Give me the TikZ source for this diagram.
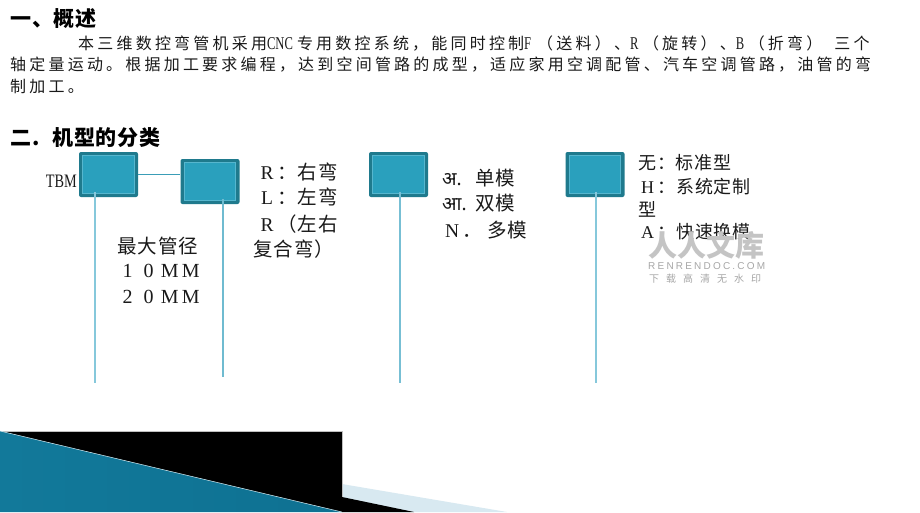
\documentclass[tikz,border=0pt]{standalone}
\usepackage{fontspec}
\setmainfont{Liberation Serif}
\newfontfamily\cjk{Noto Sans CJK SC}
\newfontfamily\cjkp{Noto Sans CJK SC}[LetterSpace=20]
\newfontfamily\cjkl{Noto Sans CJK SC}[LetterSpace=5]
\newfontfamily\cjkh{Noto Sans CJK SC}[LetterSpace=4]
\newfontfamily\nserif{Liberation Serif}[FakeStretch=0.7]
\newfontfamily\tserif{Liberation Serif}[FakeStretch=0.75]
\newfontfamily\deva[Script=Devanagari]{Noto Sans}
\newfontfamily\wmlat{Liberation Sans}[LetterSpace=22]
\newfontfamily\wmcjk{Noto Sans CJK SC}[LetterSpace=70]
\newcommand{\fwl}[2][20pt]{\makebox[#1]{\rmfamily #2}}
\newcommand{\hl}[2][13pt]{\makebox[#1][l]{\nserif\fontsize{18}{18}\selectfont #2}}
\usetikzlibrary{calc}
\definecolor{boxouter}{HTML}{1F7A8D}
\definecolor{boxinner}{HTML}{2AA0BD}
\definecolor{boxline}{HTML}{56B6CE}
\definecolor{vlinecol}{HTML}{86C8DB}
\definecolor{conncol}{HTML}{3A9DB7}
\definecolor{tealdark}{HTML}{12799A}
\definecolor{teallight}{HTML}{6CC3DF}
\definecolor{tealdarkr}{HTML}{0E7192}
\definecolor{lightband}{HTML}{D8E9F1}
\definecolor{wmgray}{HTML}{C4C4C4}
\definecolor{txt}{HTML}{1A1A1A}
\tikzset{
  box/.style={fill=boxouter, rounded corners=2pt, minimum width=59pt, minimum height=45pt, inner sep=0pt},
  innerbox/.style={fill=boxinner, draw=boxline, line width=0.8pt},
  vline/.style={draw=vlinecol, line width=1.5pt},
  conn/.style={draw=conncol, line width=1pt},
  lbl/.style={anchor=west, inner sep=0pt, text=txt},
  f20/.style={font={\cjkl\fontsize{19.5}{22}\selectfont}},
  f18/.style={font={\cjkl\fontsize{18}{21}\selectfont}},
  para/.style={anchor=west, inner sep=0pt, text=txt, font={\cjkp\fontsize{16}{18}\selectfont}},
  head/.style={anchor=west, inner sep=0pt, text=black, font={\cjkh\bfseries\fontsize{21}{23}\selectfont}}
}
\begin{document}
\begin{tikzpicture}[x=1pt,y=-1pt]
\useasboundingbox (0,0) rectangle (920,512);
\fill[white] (0,0) rectangle (920,512);

% headings and paragraph
\node[head] (h1) at (10,19) {一、概述};
\node[para] (p1) at (78,44) {本三维数控弯管机采用\hl[30pt]{CNC}专用数控系统，能同时控制\hl{F}（送料）、\hl{R}（旋转）、\hl{B}（折弯）\hspace{12pt}三个};
\node[para] (p2) at (10,65) {轴定量运动。根据加工要求编程，达到空间管路的成型，适应家用空调配管、汽车空调管路，油管的弯};
\node[para] (p3) at (10,86) {制加工。};
\node[head] (h2) at (10,138) {\makebox[42pt][l]{二.}机型的分类};

% boxes
\node[box] (b1) at (108.5,174.5) {};
\node[box] (b2) at (210,181.5) {};
\node[box] (b3) at (398.5,174.5) {};
\node[box] (b4) at (595,174.5) {};
\foreach \b in {b1,b2,b3,b4}{
  \draw[innerbox] ($(\b.north west)+(4,4)$) rectangle ($(\b.south east)+(-4,-4)$);
}

% connectors
\coordinate (e1) at (95,383);
\coordinate (e2) at (223,377);
\coordinate (e3) at (400,383);
\coordinate (e4) at (596,383);
\draw[conn] (b1.east) -- (b1.east -| b2.west);
\draw[vline] ($(b1.south -| e1)+(0,-5)$) -- (e1);
\draw[vline, draw=vlinecol!70!conncol] ($(b2.south -| e2)+(0,-5)$) -- (e2);
\draw[vline, draw=vlinecol!80!conncol] ($(b3.south -| e3)+(0,-5)$) -- (e3);
\draw[vline] ($(b4.south -| e4)+(0,-5)$) -- (e4);

% labels
\node[lbl, font={\tserif\fontsize{19}{20}\selectfont}, anchor=east] (tbm) at (77,181) {TBM};

\node[lbl, f20] (r1) at (257,172) {\fwl{R}：右弯};
\node[lbl, f20] (r2) at (257,197) {\fwl{L}：左弯};
\node[lbl, f20] (r3) at (257,224) {\fwl{R}（左右};
\node[lbl, f20] (r4) at (253,249) {复合弯）};

\node[lbl, f20] (m1) at (117,246) {最大管径};
\node[lbl, font={\rmfamily\fontsize{20}{22}\selectfont}] (m2) at (117,271) {\fwl[21pt]{1}\fwl[21pt]{0}\fwl[21pt]{M}\fwl[21pt]{M}};
\node[lbl, font={\rmfamily\fontsize{20}{22}\selectfont}] (m3) at (117,297) {\fwl[21pt]{2}\fwl[21pt]{0}\fwl[21pt]{M}\fwl[21pt]{M}};

\node[lbl, f20] (d1) at (442,178) {\makebox[33pt][l]{\deva\bfseries\fontsize{19}{20}\selectfont अ.}单模};
\node[lbl, f20] (d2) at (442,203) {\makebox[33pt][l]{\deva\bfseries\fontsize{19}{20}\selectfont आ.}双模};
\node[lbl, f20] (d3) at (442,230) {\makebox[45pt][l]{\fwl{N}．}多模};

\node[lbl, f18] (t1) at (638,163) {无：标准型};
\node[lbl, f18] (t2) at (638,187) {\fwl[19pt]{H}：系统定制};
\node[lbl, f18] (t3) at (638,209) {型};
\node[lbl, f18] (t4) at (638,232) {\fwl[19pt]{A}：快速换模};

% watermark
\node[lbl, text=wmgray, font={\cjk\bfseries\fontsize{29}{30}\selectfont}] (w1) at (648,245) {人人文库};
\node[lbl, text=wmgray!85!black, font={\wmlat\fontsize{10}{11}\selectfont}] (w2) at (648,266) {RENRENDOC.COM};
\node[lbl, text=wmgray!85!black, font={\wmcjk\fontsize{10}{11}\selectfont}] (w3) at (649,279) {下载高清无水印};

% bottom decoration
\fill[lightband] (336,483) -- (507,512) -- (336,512) -- cycle;
\fill[black] (0,431) rectangle (342,512);
\draw[gray!50, line width=0.8pt] (0,431) -- (342,431) -- (342,497);
\fill[black] (342,497) -- (414,512) -- (342,512) -- cycle;
\shade[left color=tealdark, middle color=teallight, right color=tealdarkr] (0,431) -- (342,512) -- (0,512) -- cycle;
\draw[white!75!teallight, line width=0.5pt] (0,431) -- (342,512);
\end{tikzpicture}
\end{document}
